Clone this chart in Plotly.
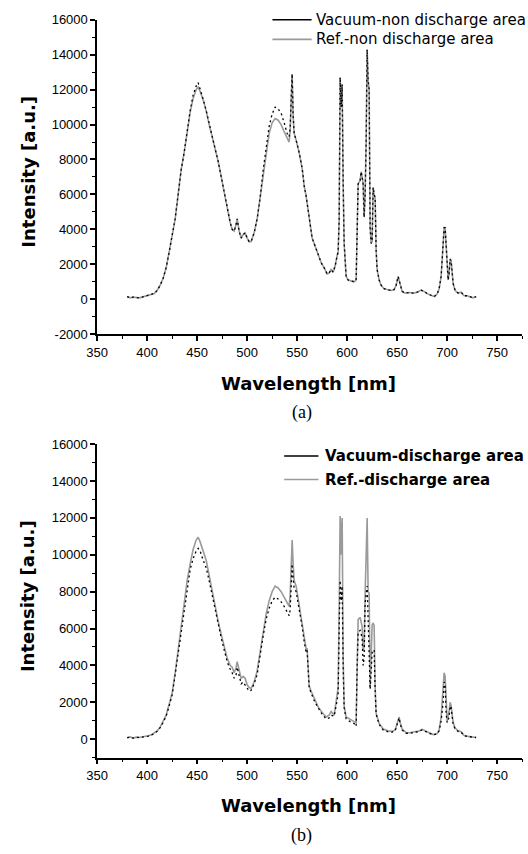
import plotly.graph_objects as go

# ---------------- data: panel (a) non-discharge area ----------------
wl_a = [380, 383, 386, 389, 392, 395, 398, 401, 404, 407, 410, 413, 416, 419, 422, 425, 428, 431,
        434, 437, 440, 443, 446, 449, 451, 453, 456, 459, 462, 465, 468, 471, 474, 477, 480, 483,
        485, 487, 489, 490, 492, 494, 496, 498, 500, 502, 504, 507, 510, 513, 516, 519, 522, 525,
        528, 531, 534, 537, 540, 542, 543, 544, 545, 546, 547, 549, 552, 555, 557, 559, 561, 563,
        565, 568, 571, 574, 577, 580, 582, 584, 586, 588, 590, 591, 592, 593, 594, 595, 596, 597,
        599, 601, 604, 607, 609, 610, 611, 613, 614, 615, 616, 617, 618, 619, 620, 621, 622, 623,
        624, 625, 626, 627, 628, 629, 630, 632, 634, 637, 640, 644, 647, 649, 651, 653, 655, 658,
        662, 666, 670, 674, 677, 680, 684, 687, 690, 692, 694, 696, 697, 698, 699, 700, 701, 702,
        703, 704, 705, 706, 708, 711, 714, 717, 720, 723, 726, 729]
ref_a = [150, 80, 120, 100, 80, 120, 180, 200, 260, 330, 500, 800, 1200, 1800, 2700, 3600, 4600, 6000,
         7400, 8400, 9600, 10700, 11500, 12000, 12150, 11900, 11400, 10800, 10000, 9200, 8600, 7900, 7000, 6000, 5200, 4400,
         4000, 3900, 4300, 4600, 3900, 3500, 3700, 3800, 3500, 3300, 3300, 3800, 4600, 5800, 7300, 8500, 9500, 10100,
         10350, 10250, 10000, 9600, 9200, 9000, 9600, 11500, 12900, 10500, 9500, 9100, 8400, 7500, 6500, 5900, 5200, 4300,
         3500, 3000, 2500, 2100, 1800, 1450, 1500, 1700, 1550, 1900, 2500, 2700, 4500, 12700, 11000, 12300, 6700, 3200,
         1300, 1100, 1050, 1000, 1100, 3600, 6600, 6800, 7300, 7000, 6600, 4700, 6000, 9000, 14300, 12500, 12000, 4100,
         3200, 3300, 6400, 6000, 5800, 2800, 1700, 1100, 800, 600, 550, 500, 550, 800, 1300, 900, 450, 350,
         380, 350, 400, 520, 450, 320, 200, 150, 300, 600, 1300, 2900, 4100, 4100, 3000, 1600, 1100, 1500,
         2300, 2200, 1500, 900, 500, 350, 400, 200, 200, 150, 80, 150]
vac_a = [150, 80, 120, 100, 80, 120, 180, 200, 260, 330, 500, 800, 1200, 1800, 2700, 3600, 4600, 6000,
         7400, 8400, 9700, 10800, 11700, 12200, 12400, 12050, 11450, 10800, 10000, 9200, 8600, 7900, 7000, 6000, 5200, 4400,
         4000, 3900, 4300, 4600, 3900, 3500, 3700, 3800, 3500, 3300, 3300, 3800, 4600, 5800, 7400, 8700, 9900, 10600,
         11000, 10900, 10650, 10100, 9500, 9300, 9800, 11500, 12900, 10500, 9500, 9100, 8400, 7500, 6500, 5900, 5200, 4300,
         3500, 3000, 2500, 2100, 1800, 1450, 1500, 1700, 1550, 1900, 2500, 2700, 4500, 12700, 11000, 12300, 6700, 3200,
         1300, 1100, 1050, 1000, 1100, 3600, 6600, 6800, 7300, 7000, 6600, 4700, 6000, 9000, 14300, 12500, 12000, 4100,
         3200, 3300, 6400, 6000, 5800, 2800, 1700, 1100, 800, 600, 550, 500, 550, 800, 1300, 900, 450, 350,
         380, 350, 400, 520, 450, 320, 200, 150, 300, 600, 1300, 2900, 4100, 4100, 3000, 1600, 1100, 1500,
         2300, 2200, 1500, 900, 500, 350, 400, 200, 200, 150, 80, 150]

# ---------------- data: panel (b) discharge area ----------------
wl_b = [380, 383, 386, 389, 392, 395, 398, 401, 404, 407, 410, 413, 416, 419, 422, 425, 428, 431,
        434, 437, 440, 443, 446, 449, 451, 453, 456, 459, 462, 465, 468, 471, 474, 477, 480, 483,
        485, 487, 489, 490, 492, 494, 496, 498, 500, 502, 504, 507, 510, 513, 516, 519, 522, 525,
        528, 531, 534, 537, 540, 542, 543, 544, 545, 546, 547, 549, 552, 555, 557, 559, 560, 561,
        562, 564, 567, 571, 575, 579, 582, 584, 587, 590, 591, 592, 593, 594, 595, 596, 597, 599,
        603, 607, 609, 610, 611, 613, 614, 615, 616, 617, 618, 620, 621, 622, 623, 625, 626, 627,
        628, 629, 632, 636, 641, 645, 648, 650, 652, 653, 655, 659, 663, 667, 671, 675, 678, 682,
        686, 690, 692, 694, 696, 697, 698, 699, 700, 702, 703, 704, 705, 706, 708, 711, 714, 717,
        721, 725, 729]
ref_b = [80, 120, 60, 110, 90, 110, 150, 180, 230, 320, 450, 650, 950, 1300, 1900, 2500, 3600, 4900,
         6000, 7300, 8600, 9500, 10300, 10800, 10950, 10700, 10200, 9700, 8900, 8000, 7200, 6400, 5700, 5000, 4400, 4000,
         3900, 3600, 3900, 4200, 3700, 3300, 3400, 3300, 2950, 2800, 2750, 3100, 3700, 4800, 5800, 6800, 7500, 8000,
         8300, 8200, 8000, 7700, 7400, 7200, 7800, 9000, 10800, 9500, 8600, 8300, 7300, 6300, 5500, 4900, 4900, 4100,
         2900, 2600, 2200, 1750, 1450, 1200, 1300, 1500, 1300, 2400, 2800, 7000, 12100, 10000, 12000, 4400, 1800, 1200,
         1050, 950, 900, 4400, 6500, 6600, 6400, 6100, 4800, 5000, 7900, 12000, 8000, 7900, 2800, 6200, 6300, 6150,
         2800, 1400, 850, 550, 450, 420, 500, 900, 1200, 900, 550, 350, 350, 400, 420, 530, 450, 320,
         250, 300, 500, 1200, 2500, 3600, 3400, 1800, 1000, 1500, 2000, 1800, 1200, 900, 600, 450, 400, 200,
         150, 100, 90]
vac_b = [80, 100, 60, 100, 90, 100, 130, 160, 220, 300, 430, 620, 900, 1250, 1800, 2400, 3500, 4700,
         5800, 7000, 8300, 9200, 9800, 10200, 10350, 10200, 9700, 9300, 8600, 7800, 6950, 6200, 5500, 4850, 4200, 3800,
         3600, 3300, 3500, 3900, 3400, 3000, 3100, 2950, 2750, 2600, 2650, 3000, 3500, 4600, 5600, 6500, 7100, 7500,
         7700, 7600, 7450, 7200, 6900, 6700, 7000, 8000, 9500, 8700, 8200, 8000, 7100, 6100, 5300, 4700, 4800, 3900,
         2800, 2500, 2100, 1700, 1350, 1100, 1150, 1300, 1250, 2100, 2500, 6000, 8600, 7500, 8300, 4000, 1700, 1100,
         950, 850, 700, 4000, 5800, 5900, 5700, 5500, 4000, 4400, 7400, 8300, 6500, 4400, 2700, 4700, 4800, 4850,
         2700, 1350, 800, 500, 400, 380, 450, 800, 1150, 850, 500, 320, 320, 380, 400, 500, 420, 300,
         230, 280, 450, 1000, 2000, 3100, 3000, 1400, 900, 1200, 1800, 1700, 1000, 800, 550, 420, 380, 190,
         140, 100, 90]

# ---------------- tick / label data ----------------
x_ticks = [350, 400, 450, 500, 550, 600, 650, 700, 750]
y_ticks_a = [-2000, 0, 2000, 4000, 6000, 8000, 10000, 12000, 14000, 16000]
y_ticks_b = [0, 2000, 4000, 6000, 8000, 10000, 12000, 14000, 16000]
name_vac_a = "Vacuum-non discharge area"
name_ref_a = "Ref.-non discharge area"
name_vac_b = "Vacuum-discharge area"
name_ref_b = "Ref.-discharge area"

W, H = 528, 854
BLACK = "#000000"
GRAY = "#9a9a9a"

fig = go.Figure()

def add_panel(wl, vac, ref, xa, ya, nv, nr):
    # gray (reference) first, black (vacuum) on top as a broken line
    fig.add_trace(go.Scatter(x=wl, y=ref, mode="lines", name=nr, line=dict(color=GRAY, width=1.6),
                             xaxis=xa, yaxis=ya, showlegend=False, hoverinfo="skip"))
    fig.add_trace(go.Scatter(x=wl, y=vac, mode="lines", name=nv,
                             line=dict(color=BLACK, width=1.3, dash="2px,3px"),
                             xaxis=xa, yaxis=ya, showlegend=False, hoverinfo="skip"))

add_panel(wl_a, vac_a, ref_a, "x", "y", name_vac_a, name_ref_a)
add_panel(wl_b, vac_b, ref_b, "x2", "y2", name_vac_b, name_ref_b)

tickfont = dict(family="Liberation Sans", size=13, color="black")

xcommon = dict(range=[350, 775], tickvals=x_ticks, ticktext=[str(v) for v in x_ticks],
               ticks="outside", ticklen=5, tickwidth=1.5,
               tickcolor="black", showline=True, linecolor="black", linewidth=1.5,
               showgrid=False, zeroline=False, tickfont=tickfont,
               minor=dict(dtick=25, tick0=350, ticks="outside", ticklen=3, tickwidth=1.2, tickcolor="black"))
ycommon = dict(ticks="outside", ticklen=5, tickwidth=1.5, tickcolor="black", showline=True,
               linecolor="black", linewidth=1.5, showgrid=False, zeroline=False,
               tickfont=tickfont,
               minor=dict(dtick=1000, tick0=0, ticks="outside", ticklen=3, tickwidth=1.2, tickcolor="black"))

fig.update_layout(
    width=W, height=H, margin=dict(l=0, r=0, t=0, b=0),
    paper_bgcolor="white", plot_bgcolor="white", showlegend=False,
    xaxis=dict(domain=[88 / W, 522 / W], anchor="y", **xcommon),
    yaxis=dict(domain=[1 - 333 / H, 1 - 13 / H], anchor="x", range=[-2000, 16000],
               tickvals=y_ticks_a, ticktext=[str(v) for v in y_ticks_a], **ycommon),
    xaxis2=dict(domain=[88 / W, 522 / W], anchor="y2", **xcommon),
    yaxis2=dict(domain=[1 - 764 / H, 1 - 445 / H], anchor="x2", range=[-1000, 16000],
                tickvals=y_ticks_b, ticktext=[str(v) for v in y_ticks_b], **ycommon),
)

# legends drawn as line samples + text (paper pixel positions)
def px_x(p):
    return p / W

def px_y(p):
    return 1 - p / H

legend_items = [
    (267, 307, 13, BLACK, name_vac_a, 309, dict(family="DejaVu Sans", size=15, color="black")),
    (267, 307, 33, GRAY, name_ref_a, 309, dict(family="DejaVu Sans", size=15, color="black")),
    (279, 314, 457, BLACK, name_vac_b, 319, dict(family="DejaVu Sans", size=15, color="black", weight="bold")),
    (279, 314, 481, GRAY, name_ref_b, 319, dict(family="DejaVu Sans", size=15, color="black", weight="bold")),
]
for x0, x1, yy, col, txt, tx, fnt in legend_items:
    fig.add_shape(type="line", xref="paper", yref="paper", x0=px_x(x0), x1=px_x(x1),
                  y0=px_y(yy), y1=px_y(yy), line=dict(color=col, width=1.6))
    fig.add_annotation(xref="paper", yref="paper", x=px_x(tx), y=px_y(yy), text=txt,
                       showarrow=False, xanchor="left", yanchor="middle", font=fnt)

title_font = dict(family="DejaVu Sans", size=18, color="black", weight="bold")
cap_font = dict(family="Liberation Serif", size=18, color="black")

annots = [
    dict(text="Intensity [a.u.]", x=17 / W, y=1 - 168 / H, textangle=-90, font=title_font),
    dict(text="Wavelength [nm]", x=304 / W, y=1 - 383 / H, font=title_font),
    dict(text="(a)", x=297 / W, y=1 - 413 / H, font=cap_font),
    dict(text="Intensity [a.u.]", x=17 / W, y=1 - 600 / H, textangle=-90, font=title_font),
    dict(text="Wavelength [nm]", x=304 / W, y=1 - 813 / H, font=title_font),
    dict(text="(b)", x=297 / W, y=1 - 843 / H, font=cap_font),
]
for a in annots:
    fig.add_annotation(xref="paper", yref="paper", showarrow=False, xanchor="center",
                       yanchor="middle", **a)

fig.write_html("out.html")
